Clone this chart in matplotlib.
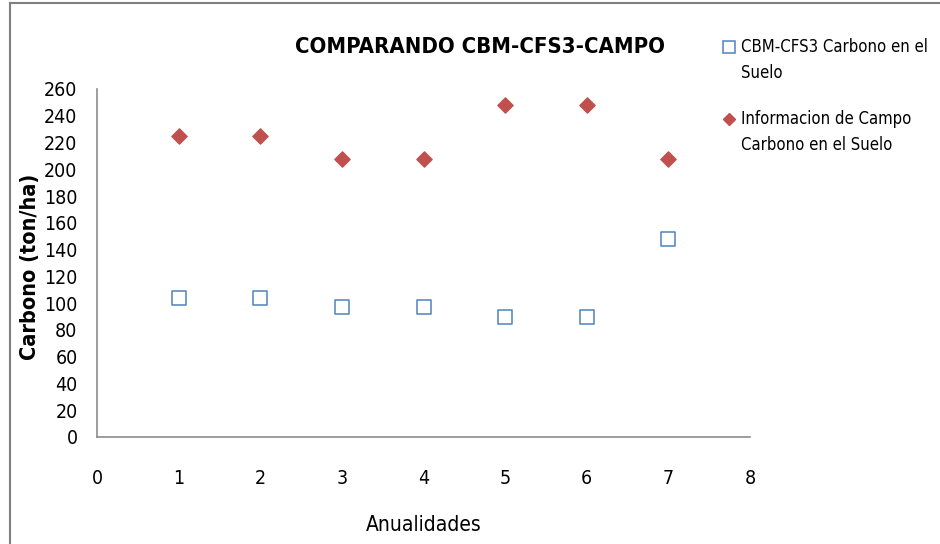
import numpy                as np
import matplotlib
matplotlib.use('Agg')
import matplotlib.pyplot    as plt
from matplotlib.lines       import Line2D


anualidades                     = [1, 2, 3, 4, 5, 6, 7]
cbm_cfs3                        = [104, 104, 97, 97, 90, 90, 148]
campo                           = [225, 225, 208, 208, 248, 248, 208]

titulo                          = 'COMPARANDO CBM-CFS3-CAMPO'
etiqueta_cbm                    = 'CBM-CFS3 Carbono en el\nSuelo'
etiqueta_campo                  = 'Informacion de Campo\nCarbono en el Suelo'
xticks                          = list(range(0, 9))
yticks                          = list(range(0, 261, 20))


plt.rcParams['font.family']     = ['DejaVu Sans']
plt.rcParams['font.stretch']    = 'condensed'

W, H                            = 940, 544
fig                             = plt.figure(figsize=(W/100, H/100), dpi=100)
ax                              = fig.add_axes([97/W, 1 - 437/H, (750-97)/W, (437-89)/H])

ax.scatter(anualidades, cbm_cfs3, marker='s', s=95, facecolors='white',
           edgecolors='#4f81bd', linewidths=1.1, zorder=3)
ax.scatter(anualidades, campo, marker='D', s=60, color='#c0504d', zorder=3)

ax.set_xlim(0, 8)
ax.set_ylim(0, 260)
ax.set_xticks(xticks)
ax.set_yticks(yticks)
ax.tick_params(axis='both', length=0, labelsize=14)
ax.tick_params(axis='x', pad=23)
ax.tick_params(axis='y', pad=14)

for s in ['top', 'right']:
    ax.spines[s].set_visible(False)
for s in ['left', 'bottom']:
    ax.spines[s].set_color('#8c8c8c')
    ax.spines[s].set_linewidth(1.2)

fig.text(480/W, 1 - 47/H, titulo, ha='center', va='center', fontsize=15.8, fontweight='bold')
fig.text(30/W, 1 - 267/H, 'Carbono (ton/ha)', ha='center', va='center', rotation=90,
         fontsize=15.5, fontweight='bold')
fig.text(424/W, 1 - 525/H, 'Anualidades', ha='center', va='center', fontsize=15)

# legend drawn by hand: marker sits on the first line of each wrapped label
legend_items                    = [
    (47,  etiqueta_cbm,   dict(marker='s', markersize=8, markerfacecolor='white',
                               markeredgecolor='#4f81bd', markeredgewidth=1.1)),
    (119, etiqueta_campo, dict(marker='D', markersize=6, color='#c0504d',
                               markeredgecolor='#c0504d')),
]
for y, label, style in legend_items:
    fig.add_artist(Line2D([729/W], [1 - y/H], linestyle='none', **style))
    fig.text(741/W, 1 - (y - 9)/H, label, ha='left', va='top', fontsize=12, linespacing=1.6)

# outer chart frame
fig.add_artist(Line2D([10/W, 10/W], [0, 1 - 3/H], color='#7f7f7f', linewidth=1.5))
fig.add_artist(Line2D([10/W, 1], [1 - 3/H, 1 - 3/H], color='#7f7f7f', linewidth=1.5))

fig.savefig('out.png', dpi=100)
